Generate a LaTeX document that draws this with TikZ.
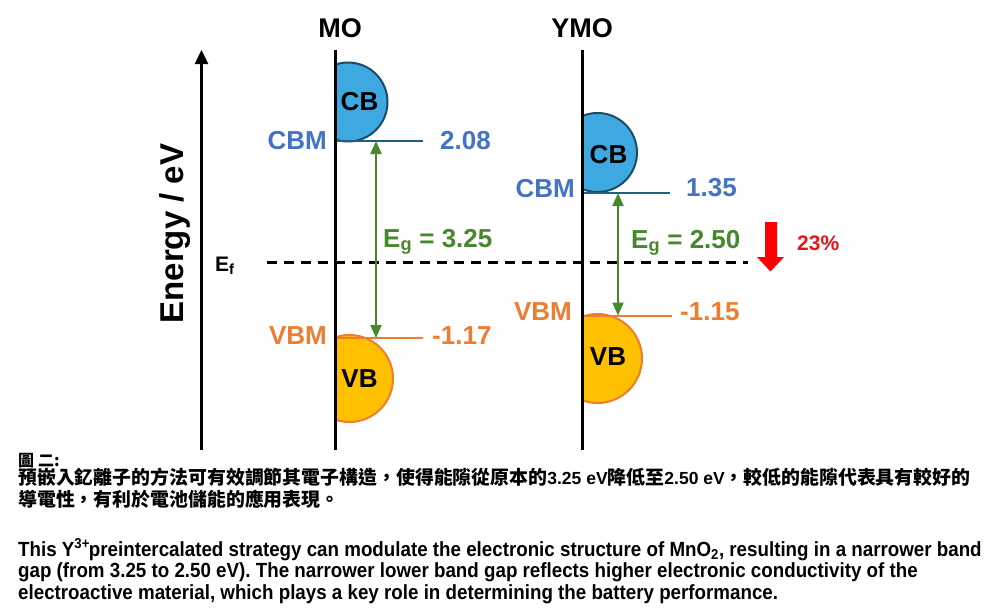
\documentclass[tikz,border=0pt]{standalone}
\usepackage{fontspec}
\setmainfont{Liberation Sans}
\newfontfamily\cjk{Noto Sans CJK TC}
\newfontfamily\narrowfont[FakeStretch=0.915]{Liberation Sans}
\usetikzlibrary{arrows.meta}
\definecolor{cbfill}{HTML}{3DA9E0}
\definecolor{cbedge}{HTML}{1D4A6A}
\definecolor{cbmline}{HTML}{1E607F}
\definecolor{bluetxt}{HTML}{4472C4}
\definecolor{vbfill}{HTML}{FFC000}
\definecolor{orng}{HTML}{ED7D31}
\definecolor{grn}{HTML}{46892D}
\definecolor{redarr}{HTML}{FF0000}
\definecolor{redtxt}{HTML}{E8141B}
\newcommand\setfs[2]{\fontsize{#1pt}{#2pt}\selectfont}
\tikzset{
  lbl/.style={inner sep=0pt, font=\bfseries\setfs{26}{26}},
  bandline/.style={line width=2pt},
  gaparrow/.style={grn, line width=2pt, {Triangle[width=11pt,length=13pt]}-{Triangle[width=11pt,length=13pt]}},
  vline/.style={line width=3pt, black},
  engtext/.style={anchor=base west, inner sep=0pt, font=\narrowfont\bfseries\setfs{20.5}{21.5}},
  cjktext/.style={anchor=base west, inner sep=0pt, font=\cjk\bfseries\setfs{18.9}{18.9}},
}
\begin{document}
\begin{tikzpicture}[x=1pt,y=-1pt]
\useasboundingbox (0,0) rectangle (1000,614);
\fill[white] (0,0) rectangle (1000,614);
% bands MO
\begin{scope}
\clip (336,0) rectangle (500,450);
\draw[fill=cbfill, draw=cbedge, line width=2pt] (348,102) circle (39.5);
\draw[fill=vbfill, draw=orng, line width=2pt] (349.5,378.5) circle (43.5);
\end{scope}
\begin{scope}
\clip (582,0) rectangle (760,450);
\draw[fill=cbfill, draw=cbedge, line width=2pt] (597.5,152.5) circle (39.5);
\draw[fill=vbfill, draw=orng, line width=2pt] (597.5,358.5) circle (44.5);
\end{scope}
% band edge lines
\coordinate (mocbmL) at (336,141);
\coordinate (mocbmR) at (423,141);
\coordinate (movbmL) at (336,338);
\coordinate (movbmR) at (423,338);
\coordinate (ycbmL) at (582,193);
\coordinate (ycbmR) at (670,193);
\coordinate (yvbmL) at (582,315.5);
\coordinate (yvbmR) at (672,315.5);
\draw[bandline, cbmline] (mocbmL) -- (mocbmR);
\draw[bandline, orng] (movbmL) -- (movbmR);
\draw[bandline, cbmline] (ycbmL) -- (ycbmR);
\draw[bandline, orng] (yvbmL) -- (yvbmR);
% Fermi level
\coordinate (efL) at (267,262.7);
\coordinate (efR) at (748,262.7);
\draw[line width=2.5pt, dash pattern=on 10pt off 7pt] (efL) -- (efR);
% vertical lines
\coordinate (moT) at (335.5,50);
\coordinate (moB) at (335.5,450);
\coordinate (yT) at (582,50);
\coordinate (yB) at (582,450);
\draw[vline] (moT) -- (moB);
\draw[vline] (yT) -- (yB);
% axis
\coordinate (axB) at (201.5,450);
\coordinate (axT) at (201.5,50);
\draw[line width=2.5pt, -{Triangle[width=13pt,length=14pt]}] (axB) -- (axT);
% gap arrows
\coordinate (moga) at (376,141);
\coordinate (mogb) at (376,338);
\coordinate (yga) at (618,193);
\coordinate (ygb) at (618,315.5);
\draw[gaparrow] (moga) -- (mogb);
\draw[gaparrow] (yga) -- (ygb);
% red arrow
\fill[redarr] (765,222) -- (777,222) -- (777,257) -- (784,257) -- (770.5,271.5) -- (757,257) -- (765,257) -- cycle;
% titles
\node[lbl, anchor=base, font=\bfseries\setfs{27}{27}] (tmo) at (340,37) {MO};
\node[lbl, anchor=base, font=\bfseries\setfs{27}{27}] (tymo) at (582,37) {YMO};
\node[rotate=90, anchor=base, inner sep=0pt, font=\bfseries\setfs{33}{33}] (energy) at (183,233.5) {Energy / eV};
\node[lbl, anchor=base west, font=\bfseries\setfs{21}{21}] (ef) at (215,271) {E\textsubscript{f}};
% band labels
\node[lbl, anchor=base] (cb1) at (359.5,110) {CB};
\node[lbl, anchor=base] (cb2) at (608.5,163) {CB};
\node[lbl, anchor=base] (vb1) at (359.5,387) {VB};
\node[lbl, anchor=base] (vb2) at (608,365) {VB};
\node[lbl, anchor=base east, text=bluetxt] (cbm1) at (327,149) {CBM};
\node[lbl, anchor=base east, text=bluetxt] (cbm2) at (575,197) {CBM};
\node[lbl, anchor=base west, text=bluetxt] (v1) at (440,149) {2.08};
\node[lbl, anchor=base west, text=bluetxt] (v2) at (686,196) {1.35};
\node[lbl, anchor=base east, text=orng] (vbm1) at (327,344) {VBM};
\node[lbl, anchor=base east, text=orng] (vbm2) at (572,320) {VBM};
\node[lbl, anchor=base west, text=orng] (v3) at (432,344) {-1.17};
\node[lbl, anchor=base west, text=orng] (v4) at (680,320) {-1.15};
\node[lbl, anchor=base west, text=grn] (eg1) at (383,247) {E\textsubscript{g} = 3.25};
\node[lbl, anchor=base west, text=grn] (eg2) at (631,248) {E\textsubscript{g} = 2.50};
\node[lbl, anchor=base west, text=redtxt, font=\bfseries\setfs{21}{21}] (pct) at (797,250) {23\%};
% caption
\node[cjktext, font=\cjk\bfseries\setfs{16}{16}] (cap0) at (18,466) {圖\hspace{4pt}二:};
\node[cjktext] (cap1) at (18,484) {預嵌入釔離子的方法可有效調節其電子構造，使得能隙從原本的{\rmfamily\bfseries\setfs{17.5}{17.5}3.25 eV}降低至{\rmfamily\bfseries\setfs{17.5}{17.5}2.50 eV}，較低的能隙代表具有較好的};
\node[cjktext] (cap2) at (18,506) {導電性，有利於電池儲能的應用表現。};
\node[engtext] (eng1) at (18,556) {This Y\textsuperscript{3+}\kern-1pt preintercalated strategy can modulate the electronic structure of MnO\textsubscript{2}, resulting in a narrower band};
\node[engtext] (eng2) at (18,577.5) {gap (from 3.25 to 2.50 eV). The narrower lower band gap reflects higher electronic conductivity of the};
\node[engtext] (eng3) at (18,599) {electroactive material, which plays a key role in determining the battery performance.};
\end{tikzpicture}
\end{document}
